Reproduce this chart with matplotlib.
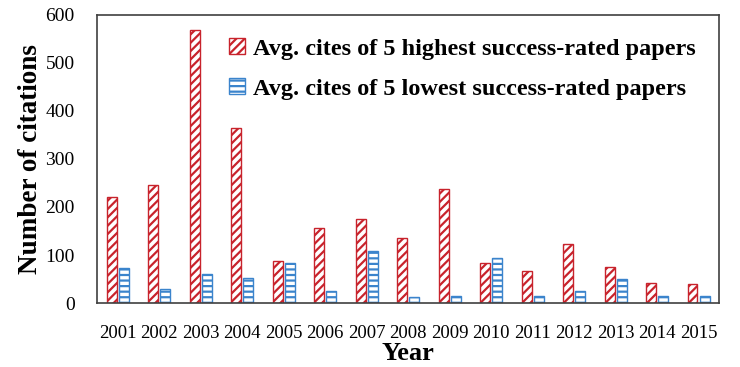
import numpy as np
import matplotlib.pyplot as plt

plt.rcParams['font.family'] = 'Liberation Serif'
plt.rcParams['hatch.linewidth'] = 1.6

years = ['2001', '2002', '2003', '2004', '2005', '2006', '2007', '2008',
         '2009', '2010', '2011', '2012', '2013', '2014', '2015']
highest = [221, 246, 569, 365, 88, 156, 175, 136, 238, 83, 67, 123, 75, 42, 40]
lowest = [73, 29, 60, 52, 83, 25, 108, 13, 15, 93, 15, 25, 50, 15, 15]

red = '#c8232c'
blue = '#3b84cc'

fig = plt.figure(figsize=(7.4, 3.67), dpi=100)
ax = fig.add_axes([0.131, 0.174, 0.841, 0.786])

x = np.arange(len(years))
w = 0.24
ax.bar(x - 0.145, highest, w, facecolor='white', edgecolor=red, hatch='////',
       linewidth=1.0, label='Avg. cites of 5 highest success-rated papers')
ax.bar(x + 0.145, lowest, w, facecolor='white', edgecolor=blue, hatch='---',
       linewidth=1.0, label='Avg. cites of 5 lowest success-rated papers')

ax.set_xlim(-0.5, len(years) - 0.5)
ax.set_ylim(0, 600)
ax.set_yticks(range(0, 601, 100))
ax.set_xticks(x)
ax.set_xticklabels(years)
ax.tick_params(axis='x', length=0, labelsize=13.5, pad=16)
ax.tick_params(axis='y', length=0, labelsize=14, pad=16)

ax.set_xlabel('Year', fontsize=19, fontweight='bold', labelpad=0)
ax.set_ylabel('Number of citations', fontsize=19.5, fontweight='bold', labelpad=2)

for spine in ax.spines.values():
    spine.set_edgecolor('#404040')
    spine.set_linewidth(1.2)

leg = ax.legend(loc='upper right', bbox_to_anchor=(0.998, 0.995), frameon=False,
                prop={'size': 17.5, 'weight': 'bold'}, handlelength=0.65,
                handleheight=0.65, handletextpad=0.35, labelspacing=0.75)

fig.savefig('out.png', dpi=100)
